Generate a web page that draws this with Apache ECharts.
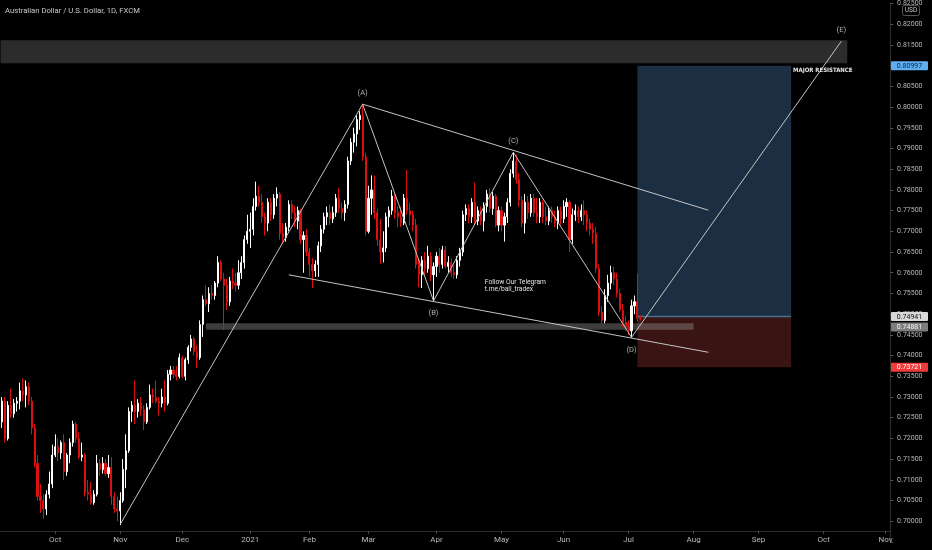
<!DOCTYPE html>
<html><head><meta charset="utf-8">
<script src="https://cdn.jsdelivr.net/npm/echarts@6/dist/echarts.min.js"></script>
<style>html,body{margin:0;padding:0;background:#000;}#c{width:932px;height:550px;}</style>
</head><body><div id="c"></div>
<script>
// ---------- calendar (daily bars, weekdays) ----------
const firstDay = '2020-09-07';
const lastDay = '2021-11-02';
const skippedDays = ['2021-01-01'];
const monthNames = ['Jan','Feb','Mar','Apr','May','Jun','Jul','Aug','Sep','Oct','Nov','Dec'];

// ---------- AUD/USD daily OHLC ----------
const opens = [
.7240,.7290,.7200,.7280,.7260,.7285,.7290,.7315,.7305,.7325,.7290,.7225,.7140,.7060,.7050,.7030,.7065,.7090,
.7160,.7180,.7165,.7190,.7120,.7160,.7190,.7235,.7200,.7155,.7160,.7070,.7065,.7045,.7065,.7140,.7125,.7140,.7115,.7130,.7060,.7030,
.7025,.7050,.7125,.7170,.7265,.7280,.7265,.7285,.7270,.7240,.7275,.7305,.7300,.7290,.7285,.7300,.7285,.7355,.7365,.7355,.7350,
.7395,.7350,.7390,.7420,.7440,.7410,.7395,.7475,.7535,.7525,.7550,.7545,.7575,.7625,.7585,.7570,.7530,.7580,.7575,.7570,.7600,.7625,.7680,
.7700,.7705,.7760,.7785,.7770,.7735,.7720,.7770,.7740,.7780,.7790,.7695,.7685,.7710,.7765,.7745,.7725,.7750,.7680,.7690,
.7650,.7620,.7605,.7620,.7665,.7705,.7735,.7745,.7730,.7745,.7780,.7755,.7745,.7765,.7870,.7915,.7935,.7970,.7980,.7880,
.7700,.7780,.7800,.7745,.7680,.7650,.7660,.7735,.7750,.7785,.7745,.7735,.7720,.7780,.7750,.7740,.7715,.7620,.7595,.7630,.7610,.7640,.7595,
.7615,.7640,.7620,.7655,.7615,.7625,.7600,.7595,.7630,.7650,.7740,.7755,.7735,.7770,.7725,.7750,.7725,.7760,.7790,.7755,.7785,.7715,
.7750,.7715,.7735,.7770,.7840,.7870,.7825,.7775,.7720,.7770,.7745,.7780,.7745,.7735,.7770,.7735,.7725,.7750,.7735,.7720,.7750,
.7730,.7760,.7770,.7680,.7740,.7750,.7735,.7750,.7740,.7720,.7705,.7695,.7610,.7505,.7485,.7545,.7575,.7600,.7585,.7550,.7510,.7480,
.7470,.7460,.7520,.7530,.7492
];
const highs = [
.7300,.7300,.7290,.7320,.7295,.7300,.7335,.7345,.7340,.7335,.7300,.7235,.7160,.7090,.7065,.7075,.7120,.7185,
.7210,.7200,.7195,.7210,.7165,.7200,.7243,.7240,.7215,.7190,.7165,.7100,.7095,.7075,.7160,.7150,.7155,.7150,.7160,.7155,.7070,.7060,
.7070,.7150,.7210,.7275,.7290,.7340,.7295,.7300,.7280,.7285,.7330,.7320,.7340,.7300,.7320,.7340,.7365,.7375,.7375,.7375,.7405,
.7400,.7395,.7425,.7450,.7445,.7425,.7485,.7545,.7570,.7565,.7570,.7580,.7640,.7630,.7600,.7585,.7590,.7610,.7600,.7630,.7640,.7690,.7740,
.7745,.7780,.7820,.7810,.7790,.7745,.7780,.7780,.7790,.7806,.7795,.7720,.7720,.7775,.7775,.7760,.7760,.7755,.7700,.7705,
.7660,.7635,.7630,.7675,.7715,.7745,.7760,.7765,.7760,.7790,.7805,.7770,.7775,.7880,.7925,.7950,.7980,.7990,.8007,.7890,
.7810,.7835,.7835,.7755,.7730,.7700,.7745,.7760,.7800,.7790,.7760,.7760,.7790,.7848,.7770,.7750,.7730,.7635,.7640,.7650,.7665,.7650,.7625,
.7650,.7660,.7665,.7665,.7640,.7635,.7620,.7640,.7660,.7750,.7765,.7765,.7780,.7818,.7760,.7760,.7770,.7800,.7805,.7795,.7790,
.7760,.7760,.7745,.7780,.7850,.7891,.7885,.7840,.7785,.7790,.7785,.7790,.7790,.7780,.7780,.7775,.7760,.7760,.7760,.7750,.7760,.7760,
.7775,.7780,.7775,.7755,.7765,.7760,.7765,.7775,.7750,.7730,.7720,.7710,.7620,.7520,.7560,.7595,.7617,.7615,.7600,.7560,.7525,
.7495,.7485,.7535,.7545,.7599,.7497
];
const lows = [
.7225,.7190,.7195,.7250,.7250,.7265,.7270,.7290,.7275,.7280,.7210,.7130,.7050,.7020,.7006,.7015,.7055,.7080,
.7155,.7145,.7150,.7100,.7110,.7140,.7180,.7190,.7150,.7145,.7060,.7050,.7040,.7040,.7060,.7110,.7115,.7110,.7105,.7040,.7020,.7000,
.6991,.7045,.7080,.7165,.7240,.7235,.7250,.7255,.7220,.7235,.7270,.7285,.7285,.7255,.7275,.7265,.7280,.7340,.7345,.7340,.7345,
.7345,.7340,.7380,.7410,.7400,.7370,.7390,.7445,.7520,.7505,.7535,.7535,.7565,.7580,.7462,.7510,.7520,.7560,.7555,.7560,.7585,.7610,.7670,
.7660,.7690,.7750,.7760,.7720,.7690,.7700,.7725,.7730,.7760,.7680,.7670,.7675,.7700,.7730,.7710,.7705,.7670,.7600,.7640,
.7590,.7563,.7590,.7590,.7650,.7695,.7715,.7715,.7720,.7735,.7745,.7730,.7725,.7755,.7860,.7890,.7905,.7945,.7870,.7690,
.7695,.7740,.7730,.7665,.7622,.7625,.7650,.7710,.7740,.7730,.7710,.7710,.7715,.7740,.7715,.7700,.7610,.7565,.7563,.7595,.7600,.7580,.7532,
.7590,.7600,.7610,.7610,.7600,.7590,.7585,.7586,.7615,.7640,.7725,.7720,.7720,.7715,.7715,.7715,.7700,.7745,.7745,.7740,.7710,
.7700,.7700,.7675,.7720,.7760,.7830,.7815,.7760,.7710,.7695,.7730,.7735,.7735,.7720,.7720,.7720,.7715,.7715,.7720,.7710,.7705,.7715,
.7720,.7735,.7650,.7670,.7725,.7720,.7725,.7715,.7700,.7690,.7670,.7600,.7495,.7477,.7478,.7530,.7560,.7570,.7540,.7505,.7470,
.7460,.7450,.7444,.7500,.7482,.7485
];
const closes = [
.7290,.7200,.7280,.7260,.7285,.7290,.7315,.7305,.7325,.7290,.7225,.7140,.7060,.7050,.7030,.7065,.7090,.7160,
.7180,.7165,.7190,.7120,.7160,.7190,.7235,.7200,.7155,.7160,.7070,.7065,.7045,.7065,.7140,.7125,.7140,.7115,.7130,.7060,.7030,.7025,
.7050,.7125,.7170,.7265,.7280,.7265,.7285,.7270,.7240,.7275,.7305,.7300,.7290,.7285,.7300,.7285,.7355,.7365,.7355,.7350,.7395,
.7350,.7390,.7420,.7440,.7410,.7395,.7475,.7535,.7525,.7550,.7545,.7575,.7625,.7585,.7570,.7530,.7580,.7575,.7570,.7600,.7625,.7680,.7700,
.7705,.7760,.7785,.7770,.7735,.7720,.7770,.7740,.7780,.7790,.7695,.7685,.7710,.7765,.7745,.7725,.7750,.7680,.7690,.7650,
.7620,.7605,.7620,.7665,.7705,.7735,.7745,.7730,.7745,.7780,.7755,.7745,.7765,.7870,.7915,.7935,.7970,.7980,.7880,.7700,
.7780,.7800,.7745,.7680,.7650,.7660,.7735,.7750,.7785,.7745,.7735,.7720,.7780,.7750,.7740,.7715,.7620,.7595,.7630,.7610,.7640,.7595,.7615,
.7640,.7620,.7655,.7615,.7625,.7600,.7595,.7630,.7650,.7740,.7755,.7735,.7770,.7725,.7750,.7725,.7760,.7790,.7755,.7785,.7715,
.7750,.7715,.7735,.7770,.7840,.7870,.7825,.7775,.7720,.7770,.7745,.7780,.7745,.7735,.7770,.7735,.7725,.7750,.7735,.7720,.7750,.7730,
.7760,.7770,.7680,.7740,.7750,.7735,.7750,.7740,.7720,.7705,.7695,.7610,.7505,.7485,.7545,.7575,.7600,.7585,.7550,.7510,.7480,.7470,
.7460,.7520,.7530,.7490,.74881
];

// ---------- drawings (bar index, price) ----------
const wavePath = [[40,0.6993],[122,0.8007],[146,0.7532],[173,0.7891],[213,0.7444],[284,0.8159]];
const waveNames = ['(A)','(B)','(C)','(D)','(E)'];
const waveLabelSide = ['top','bottom','top','bottom','top'];
const upperChannel = [[122,0.8007],[239,0.7751]];
const lowerChannel = [[97,0.7595],[239,0.7408]];
// zones: [fromBar, toBar, lowPrice, highPrice]  (fromBar -1 = chart's left edge)
const zones = [
  [-1, 286, 0.8106, 0.8161],   // major resistance
  [215, 267, 0.74941, 0.80997], // long position: target
  [215, 267, 0.73721, 0.74941], // long position: stop
  [69, 234, 0.74624, 0.74782]   // support band
];
const entryLine = [[215,0.74941],[267,0.74941]];
const priceTags = [0.80997, 0.74941, 0.74881, 0.73721];

// ---------- styles ----------
const zoneColors = ['#2c2c2c','#1c2f42','#3a1313','rgba(150,150,150,0.40)'];
const tagStyles = [
  {bg:'#5eaef0', fg:'#0f2235'},
  {bg:'#d8d8d8', fg:'#151515'},
  {bg:'#7d7d7d', fg:'#f4f4f4'},
  {bg:'#f23a3a', fg:'#ffffff'}
];
const FONT = 'Roboto, "Liberation Sans", sans-serif';
const NARROW = '"Liberation Sans Narrow", "DejaVu Sans Condensed", Roboto, sans-serif';

// ---------- build ----------
const categories = [];
for (let d = new Date(firstDay + 'T00:00:00Z'); d <= new Date(lastDay + 'T00:00:00Z'); d.setUTCDate(d.getUTCDate() + 1)) {
  const wd = d.getUTCDay(); const s = d.toISOString().slice(0, 10);
  if (wd === 0 || wd === 6 || skippedDays.includes(s)) continue;
  categories.push(s);
}
const isMonthStart = (i) => i > 0 && categories[i].slice(5, 7) !== categories[i - 1].slice(5, 7);
const monthLabel = (v) => { const m = +v.slice(5, 7); return m === 1 ? v.slice(0, 4) : monthNames[m - 1]; };
const candles = opens.map((o, i) => [o, closes[i], lows[i], highs[i]]);

const chart = echarts.init(document.getElementById('c'), null, {renderer: 'canvas'});
const lineStyle = {color: '#c4c4c4', width: 1};

chart.setOption({
  backgroundColor: '#000000',
  animation: false,
  grid: {left: 0.6, right: 41.9, top: 0, bottom: 8},
  xAxis: {
    type: 'category', data: categories, boundaryGap: true, offset: -11,
    axisLine: {show: true, lineStyle: {color: '#2e2e2e'}},
    axisTick: {show: true, alignWithLabel: true, interval: (i) => isMonthStart(i), length: 3, lineStyle: {color: '#4a4a4a'}},
    axisLabel: {interval: (i) => isMonthStart(i), formatter: monthLabel, color: '#b8b8b8', fontSize: 8, margin: 5, fontFamily: FONT},
    splitLine: {show: false}
  },
  yAxis: {
    type: 'value', position: 'right', min: 0.695, max: 0.825, interval: 0.005,
    axisLine: {show: true, lineStyle: {color: '#2e2e2e'}},
    axisTick: {show: true, length: 3, lineStyle: {color: '#555'}},
    axisLabel: {color: '#b8b8b8', fontSize: 7, margin: 7, fontFamily: FONT,
      formatter: (v) => (v < 0.6999 ? '' : v.toFixed(5))},
    splitLine: {show: false}
  },
  series: [
    {
      type: 'custom', name: 'zones', z: 1, silent: true,
      data: zones,
      renderItem: (params, api) => {
        const x0v = api.value(0), x1v = api.value(1);
        const pTop = api.coord([Math.max(x0v, 0), api.value(3)]);
        const pBot = api.coord([x1v, api.value(2)]);
        const left = x0v < 0 ? params.coordSys.x : pTop[0];
        return {type: 'rect', shape: {x: left, y: pTop[1], width: pBot[0] - left, height: pBot[1] - pTop[1]},
          style: {fill: zoneColors[params.dataIndex]}};
      }
    },
    {
      type: 'line', name: 'entry', z: 2, silent: true, symbol: 'none', data: entryLine,
      lineStyle: {color: '#46708f', width: 1.5}
    },
    {
      type: 'candlestick', name: 'AUDUSD', z: 3, data: candles, barWidth: 1.6,
      itemStyle: {color: '#ffffff', color0: '#dd1010', borderColor: '#ffffff', borderColor0: '#dd1010', borderWidth: 1}
    },
    {type: 'line', name: 'wave', z: 4, silent: true, symbol: 'none', data: wavePath, lineStyle: lineStyle},
    {type: 'line', name: 'upper', z: 4, silent: true, symbol: 'none', data: upperChannel, lineStyle: lineStyle},
    {type: 'line', name: 'lower', z: 4, silent: true, symbol: 'none', data: lowerChannel, lineStyle: lineStyle},
    {
      type: 'scatter', name: 'waveLabels', z: 5, silent: true, symbolSize: 1,
      itemStyle: {color: 'rgba(0,0,0,0)'},
      data: wavePath.slice(1).map((p, i) => ({
        value: p,
        label: {show: true, formatter: waveNames[i], position: waveLabelSide[i],
          distance: waveLabelSide[i] === 'top' ? 7 : 8, color: '#dcdcdc', fontSize: 7.5, fontFamily: FONT}
      }))
    }
  ]
});

// ---------- texts and price tags ----------
const yOf = (v) => chart.convertToPixel({yAxisIndex: 0}, v);
const xOf = (i) => chart.convertToPixel({xAxisIndex: 0}, i);
const axisX = 891;
const tagH = 9, tagW = 37;
let tagYs = [];
priceTags.forEach((v, k) => {
  let cy = yOf(v);
  if (k > 0 && cy - tagYs[k - 1] < tagH + 1) cy = tagYs[k - 1] + tagH + 1.5;
  tagYs.push(cy);
});
const graphics = [
  {type: 'text', left: 5, top: 7, z: 100,
    style: {text: 'Australian Dollar / U.S. Dollar, 1D, FXCM', fill: '#c8c8c8', font: '7.7px ' + FONT}},
  {type: 'rect', z: 100, shape: {x: 902.5, y: 5.5, width: 17, height: 10, r: 2},
    style: {fill: '#000', stroke: '#555', lineWidth: 1}},
  {type: 'text', z: 101, x: 911, y: 10.5,
    style: {text: 'USD', fill: '#c8c8c8', font: '6.5px ' + FONT, align: 'center', verticalAlign: 'middle'}},
  {type: 'text', z: 100, x: xOf(267) + 2, y: yOf(0.8089),
    style: {text: 'MAJOR RESISTANCE', fill: '#e8e8e8', font: 'bold 6px ' + NARROW, align: 'left', verticalAlign: 'middle'}},
  {type: 'text', z: 100, x: xOf(163) + 1, y: yOf(0.7569),
    style: {text: 'Follow Our Telegram\nt.me/bali_tradex', fill: '#e0e0e0', font: '6.7px ' + FONT, lineHeight: 7.3,
      align: 'left', verticalAlign: 'middle'}}
];
priceTags.forEach((v, k) => {
  const cy = tagYs[k];
  graphics.push({type: 'rect', z: 110, shape: {x: axisX, y: cy - tagH / 2, width: tagW, height: tagH, r: 1},
    style: {fill: tagStyles[k].bg}});
  graphics.push({type: 'text', z: 111, x: axisX + tagW / 2, y: cy + 0.3,
    style: {text: v.toFixed(5), fill: tagStyles[k].fg, font: '7px ' + FONT, align: 'center', verticalAlign: 'middle'}});
});
chart.setOption({graphic: graphics});
</script>
</body></html>
